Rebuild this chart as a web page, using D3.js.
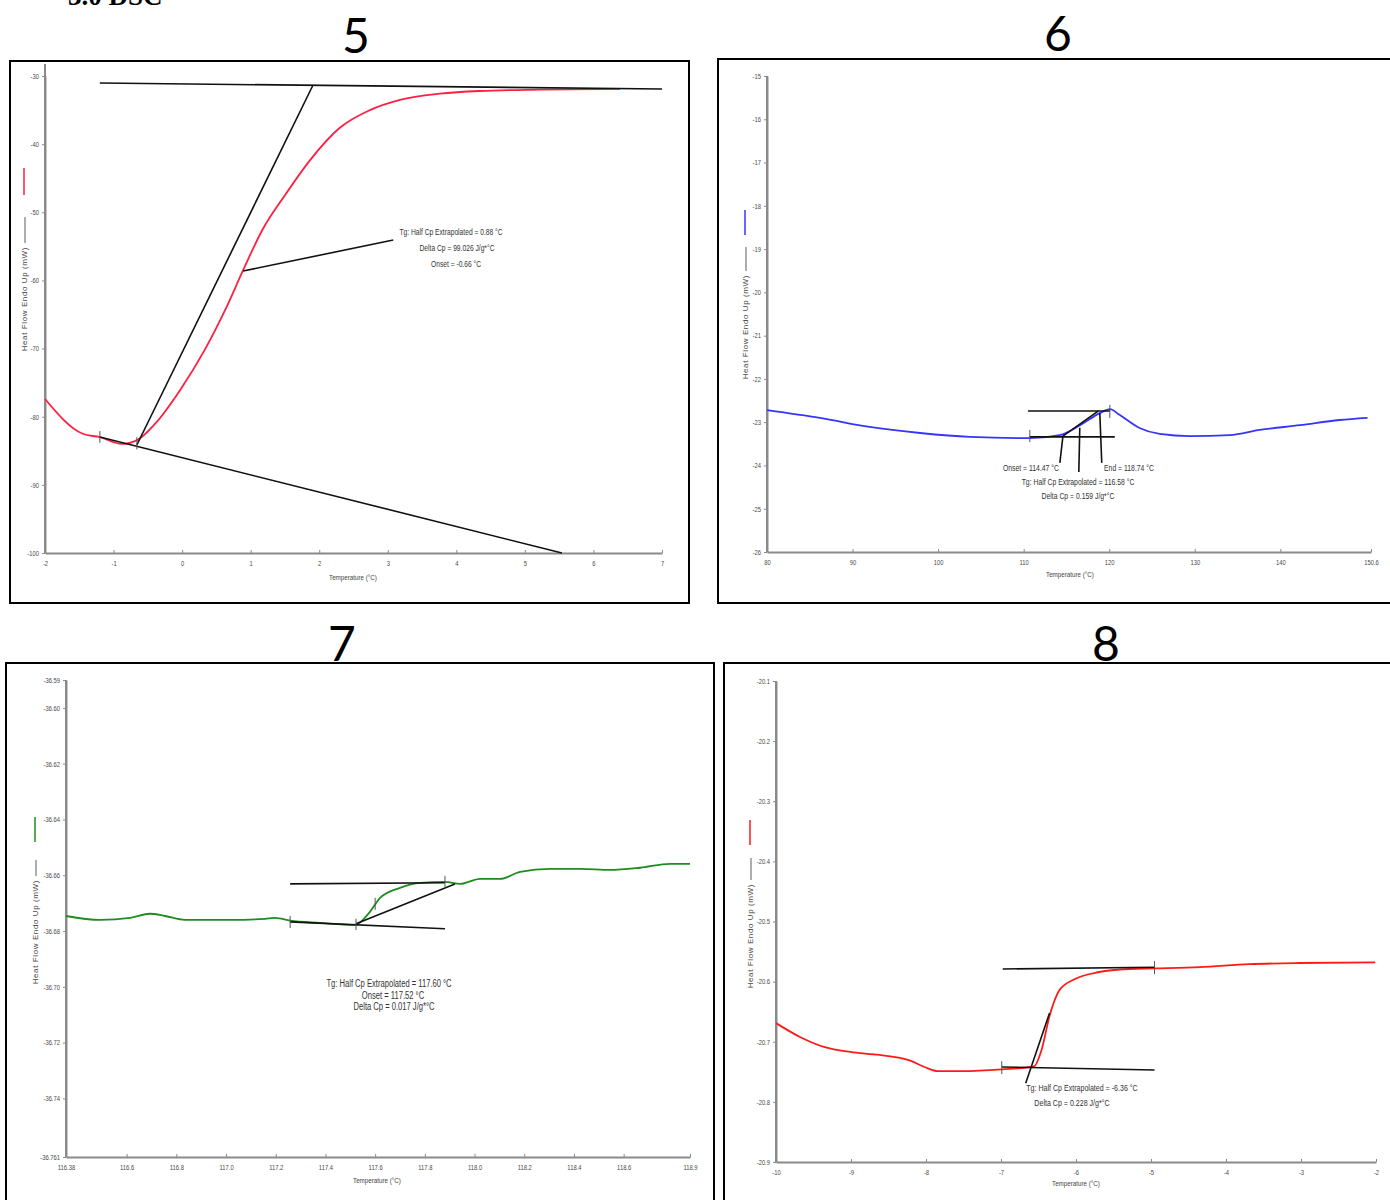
<!DOCTYPE html>
<html><head><meta charset="utf-8">
<script src="https://cdn.jsdelivr.net/npm/d3@7"></script>
<style>body{margin:0;background:#fff}svg{display:block}</style>
</head><body>
<svg id="c" width="1390" height="1200"></svg>
<script>
// ---------- DATA ----------
// Panel 5
const p5Temp = [-2,-1.45,-1.2,-0.88,-0.65,-0.40,-0.03,0.33,0.63,0.89,1.17,1.50,1.87,2.30,2.74,3.18,3.76,4.34,5.22,6.39];
const p5Heat = [-77.4,-82.5,-83.0,-84.0,-83.4,-81.1,-76.1,-70.2,-64.3,-58.5,-52.6,-47.5,-42.3,-37.6,-35.0,-33.5,-32.6,-32.2,-32.0,-31.9];
const p5Guides = [[-1.2,-31.03,7,-31.91],[-0.66,-84.15,1.91,-31.32],[-1.2,-82.98,5.54,-100],[0.89,-58.62,3.08,-54.07]];
const p5Marks = [[-1.2,-82.1,-83.85],[-0.66,-83.0,-84.8]];
const p5Notes = ["Tg: Half Cp Extrapolated = 0.88 °C","Delta Cp = 99.026 J/g*°C","Onset = -0.66 °C"];
const p5XTicks = [-2,-1,0,1,2,3,4,5,6,7];
const p5XLabels = ["-2","-1","0","1","2","3","4","5","6","7"];
const p5YTicks = [-30,-40,-50,-60,-70,-80,-90,-100];
const p5YLabels = ["-30","-40","-50","-60","-70","-80","-90","-100"];
// Panel 6
const p6Temp = [80,86.2,92.0,97.9,103.7,110.7,114.2,116.6,118.9,120.1,121.2,123.6,125.9,129.4,134.1,137.6,142.3,146.9,150.2];
const p6Heat = [-22.72,-22.90,-23.11,-23.25,-23.34,-23.37,-23.30,-23.07,-22.79,-22.70,-22.83,-23.14,-23.27,-23.32,-23.30,-23.18,-23.07,-22.95,-22.90];
const p6Guides = [[110.5,-22.74,120.1,-22.74],[110.7,-23.34,120.65,-23.34],[114.47,-23.34,118.74,-22.74],[114.58,-23.34,114.23,-23.94],[116.56,-23.13,116.45,-24.15],[118.9,-22.79,119.13,-23.94]];
const p6Marks = [[110.72,-23.18,-23.46],[120.07,-22.6,-22.9]];
const p6Notes = ["Onset = 114.47 °C","End = 118.74 °C","Tg: Half Cp Extrapolated = 116.58 °C","Delta Cp = 0.159 J/g*°C"];
const p6XTicks = [80,90,100,110,120,130,140,150.6];
const p6XLabels = ["80","90","100","110","120","130","140","150.6"];
const p6YTicks = [-15,-16,-17,-18,-19,-20,-21,-22,-23,-24,-25,-26];
const p6YLabels = ["-15","-16","-17","-18","-19","-20","-21","-22","-23","-24","-25","-26"];
// Panel 7
const p7Temp = [116.356,116.493,116.614,116.694,116.755,116.835,117.016,117.157,117.197,117.258,117.378,117.519,117.579,117.620,117.700,117.781,117.881,117.942,118.022,118.103,118.183,118.304,118.425,118.545,118.666,118.787,118.867];
const p7Heat = [-36.6746,-36.6760,-36.6753,-36.6738,-36.6746,-36.6760,-36.6760,-36.6756,-36.6753,-36.6763,-36.6771,-36.6778,-36.6731,-36.6681,-36.6645,-36.6627,-36.6624,-36.6631,-36.6613,-36.6613,-36.6588,-36.6577,-36.6577,-36.6581,-36.6573,-36.6559,-36.6559];
const p7Guides = [[117.258,-36.6631,117.881,-36.6627],[117.258,-36.6767,117.881,-36.6792],[117.523,-36.6774,117.921,-36.6631]];
const p7Marks = [[117.258,-36.6746,-36.6789],[117.523,-36.6756,-36.6796],[117.881,-36.6602,-36.6645],[117.60,-36.6681,-36.6724]];
const p7Notes = ["Tg: Half Cp Extrapolated = 117.60 °C","Onset = 117.52 °C","Delta Cp = 0.017 J/g*°C"];
const p7XTicks = [116.356,116.6,116.8,117.0,117.2,117.4,117.6,117.8,118.0,118.2,118.4,118.6,118.867];
const p7XLabels = ["116.38","116.6","116.8","117.0","117.2","117.4","117.6","117.8","118.0","118.2","118.4","118.6","118.9"];
const p7YTicks = [-36.59,-36.60,-36.62,-36.64,-36.66,-36.68,-36.70,-36.72,-36.74,-36.761];
const p7YLabels = ["-36.59","-36.60","-36.62","-36.64","-36.66","-36.68","-36.70","-36.72","-36.74","-36.761"];
// Panel 8
const p8Temp = [-10,-9.68,-9.35,-9.01,-8.62,-8.22,-8.02,-7.84,-7.52,-6.99,-6.56,-6.46,-6.35,-6.22,-6.02,-5.69,-5.29,-4.95,-4.35,-3.69,-3.02,-2.01];
const p8Heat = [-20.669,-20.692,-20.709,-20.717,-20.722,-20.731,-20.742,-20.749,-20.749,-20.746,-20.741,-20.714,-20.656,-20.614,-20.596,-20.584,-20.579,-20.578,-20.576,-20.571,-20.569,-20.568];
const p8Guides = [[-6.977,-20.579,-4.953,-20.576],[-6.99,-20.742,-4.953,-20.747],[-6.671,-20.769,-6.352,-20.652]];
const p8Marks = [[-6.99,-20.7323,-20.7539],[-4.953,-20.5659,-20.5875]];
const p8Notes = ["Tg: Half Cp Extrapolated = -6.36 °C","Delta Cp = 0.228 J/g*°C"];
const p8XTicks = [-10,-9,-8,-7,-6,-5,-4,-3,-2];
const p8XLabels = ["-10","-9","-8","-7","-6","-5","-4","-3","-2"];
const p8YTicks = [-20.1,-20.2,-20.3,-20.4,-20.5,-20.6,-20.7,-20.8,-20.9];
const p8YLabels = ["-20.1","-20.2","-20.3","-20.4","-20.5","-20.6","-20.7","-20.8","-20.9"];

// ---------- LAYOUT ----------
const SANS = '"Liberation Sans",Arial,sans-serif';
const panels = [
 {title:"5", titlePos:[356,53], frame:[10,61,689,603], xr:[45,662], yr:[553,76], xDom:[-2,7], yDom:[-100,-30],
  temp:p5Temp, heat:p5Heat, color:"#ff1f40", guides:p5Guides, marks:p5Marks, notes:p5Notes, noteSize:8.8,
  notePos:[[451,235],[457,251],[456,267]], xT:p5XTicks, xL:p5XLabels, yT:p5YTicks, yL:p5YLabels,
  yAxisTop:64, leg:{x:24, c:[168,195], k:[217,245]}, xTitle:[353,580]},
 {title:"6", titlePos:[1058,51], frame:[718,59,1400,603], xr:[767,1371], yr:[552,76], xDom:[80,150.6], yDom:[-26,-15],
  temp:p6Temp, heat:p6Heat, color:"#3535ff", guides:p6Guides, marks:p6Marks, notes:p6Notes, noteSize:9,
  notePos:[[1031,471],[1129,471],[1078,485],[1078,499]], xT:p6XTicks, xL:p6XLabels, yT:p6YTicks, yL:p6YLabels,
  yAxisTop:76, leg:{x:745, c:[210,235], k:[247,273]}, xTitle:[1070,577]},
 {title:"7", titlePos:[342,661], frame:[6,663,714,1210], xr:[66,690], yr:[1157,680], xDom:[116.356,118.867], yDom:[-36.761,-36.59],
  temp:p7Temp, heat:p7Heat, color:"#1f8c1f", guides:p7Guides, marks:p7Marks, notes:p7Notes, noteSize:10,
  notePos:[[389,987],[393,999],[394,1010]], xT:p7XTicks, xL:p7XLabels, yT:p7YTicks, yL:p7YLabels,
  yAxisTop:680, leg:{x:35, c:[817,842], k:[860,878]}, xTitle:[377,1183]},
 {title:"8", titlePos:[1106,661], frame:[724,663,1400,1210], xr:[776,1376], yr:[1162,681], xDom:[-10,-2], yDom:[-20.9,-20.1],
  temp:p8Temp, heat:p8Heat, color:"#ff1a1a", guides:p8Guides, marks:p8Marks, notes:p8Notes, noteSize:9.3,
  notePos:[[1082,1091],[1072,1106]], xT:p8XTicks, xL:p8XLabels, yT:p8YTicks, yL:p8YLabels,
  yAxisTop:681, leg:{x:750, c:[820,845], k:[858,882]}, xTitle:[1076,1186]}
];

// squeeze text horizontally to mimic a condensed face
function narrow(sel, f){
  sel.each(function(){
    const L = this.getComputedTextLength();
    if (L > 0) d3.select(this).attr("textLength", L*f).attr("lengthAdjust","spacingAndGlyphs");
  });
}

const svg = d3.select("#c");
svg.append("rect").attr("width",1390).attr("height",1200).attr("fill","#fff");

// page heading (cut off at top edge, as in the source)
svg.append("text").attr("x",68).attr("y",5).attr("font-family",'"Liberation Serif","Times New Roman",serif')
  .attr("font-weight","bold").attr("font-size",27).attr("fill","#000").text("3.0 DSC");

panels.forEach(p => {
  const g = svg.append("g");
  const x = d3.scaleLinear().domain(p.xDom).range(p.xr);
  const y = d3.scaleLinear().domain(p.yDom).range(p.yr);

  g.append("rect").attr("x",p.frame[0]).attr("y",p.frame[1])
    .attr("width",p.frame[2]-p.frame[0]).attr("height",p.frame[3]-p.frame[1])
    .attr("fill","none").attr("stroke","#000").attr("stroke-width",2);

  svg.append("text").attr("x",p.titlePos[0]).attr("y",p.titlePos[1]).attr("text-anchor","middle")
    .attr("font-family",'Lato,"Open Sans",sans-serif').attr("font-size",48).attr("fill","#000").text(p.title);

  const xa = g.append("g").attr("transform",`translate(0,${p.yr[0]})`)
    .call(d3.axisBottom(x).tickValues(p.xT).tickFormat((d,i)=>p.xL[i]).tickSizeOuter(0).tickSizeInner(-3).tickPadding(8));
  const ya = g.append("g").attr("transform",`translate(${p.xr[0]},0)`)
    .call(d3.axisLeft(y).tickValues(p.yT).tickFormat((d,i)=>p.yL[i]).tickSizeOuter(0).tickSizeInner(3).tickPadding(3));
  [xa,ya].forEach(a=>{
    a.select(".domain").attr("stroke","#8a8a8a").attr("stroke-width",2);
    a.selectAll(".tick line").attr("stroke","#8a8a8a");
    a.selectAll(".tick text").attr("font-family",SANS).attr("font-size",7.3).attr("fill","#4a4a4a");
    narrow(a.selectAll(".tick text"), 0.8);
  });
  g.append("line").attr("x1",p.xr[0]).attr("x2",p.xr[0]).attr("y1",p.yAxisTop).attr("y2",p.yr[0])
    .attr("stroke","#8a8a8a").attr("stroke-width",2);

  narrow(g.append("text").attr("x",p.xTitle[0]).attr("y",p.xTitle[1]).attr("text-anchor","middle")
    .attr("font-family",SANS).attr("font-size",7.8).attr("fill","#444").text("Temperature (°C)"), 0.8);
  g.append("text").attr("transform",`translate(${p.leg.x+3},${p.leg.k[1]+2}) rotate(-90)`).attr("text-anchor","end")
    .attr("font-family",SANS).attr("font-size",8).attr("letter-spacing",0.6).attr("fill","#444")
    .text("Heat Flow Endo Up (mW)");
  g.append("line").attr("x1",p.leg.x).attr("x2",p.leg.x).attr("y1",p.leg.c[0]).attr("y2",p.leg.c[1])
    .attr("stroke",p.color).attr("stroke-width",1.5);
  g.append("line").attr("x1",p.leg.x+1).attr("x2",p.leg.x+1).attr("y1",p.leg.k[0]).attr("y2",p.leg.k[1]-2)
    .attr("stroke","#333").attr("stroke-width",0.8);

  const pts = p.temp.map((t,i)=>[t,p.heat[i]]);
  g.append("path").datum(pts)
    .attr("d",d3.line().x(d=>x(d[0])).y(d=>y(d[1])).curve(d3.curveMonotoneX))
    .attr("fill","none").attr("stroke",p.color).attr("stroke-width",1.8);

  g.selectAll(".gl").data(p.guides).join("line")
    .attr("x1",d=>x(d[0])).attr("y1",d=>y(d[1])).attr("x2",d=>x(d[2])).attr("y2",d=>y(d[3]))
    .attr("stroke","#111").attr("stroke-width",1.6);
  g.selectAll(".mk").data(p.marks).join("line")
    .attr("x1",d=>x(d[0])).attr("x2",d=>x(d[0])).attr("y1",d=>y(d[1])).attr("y2",d=>y(d[2]))
    .attr("stroke","#555").attr("stroke-width",1);

  p.notes.forEach((t,i)=>{
    const tx = g.append("text").attr("x",p.notePos[i][0]).attr("y",p.notePos[i][1]).attr("text-anchor","middle")
      .attr("font-family",SANS).attr("font-size",p.noteSize).attr("fill","#333").text(t);
    narrow(tx, 0.76);
  });
});
</script>
</body></html>
